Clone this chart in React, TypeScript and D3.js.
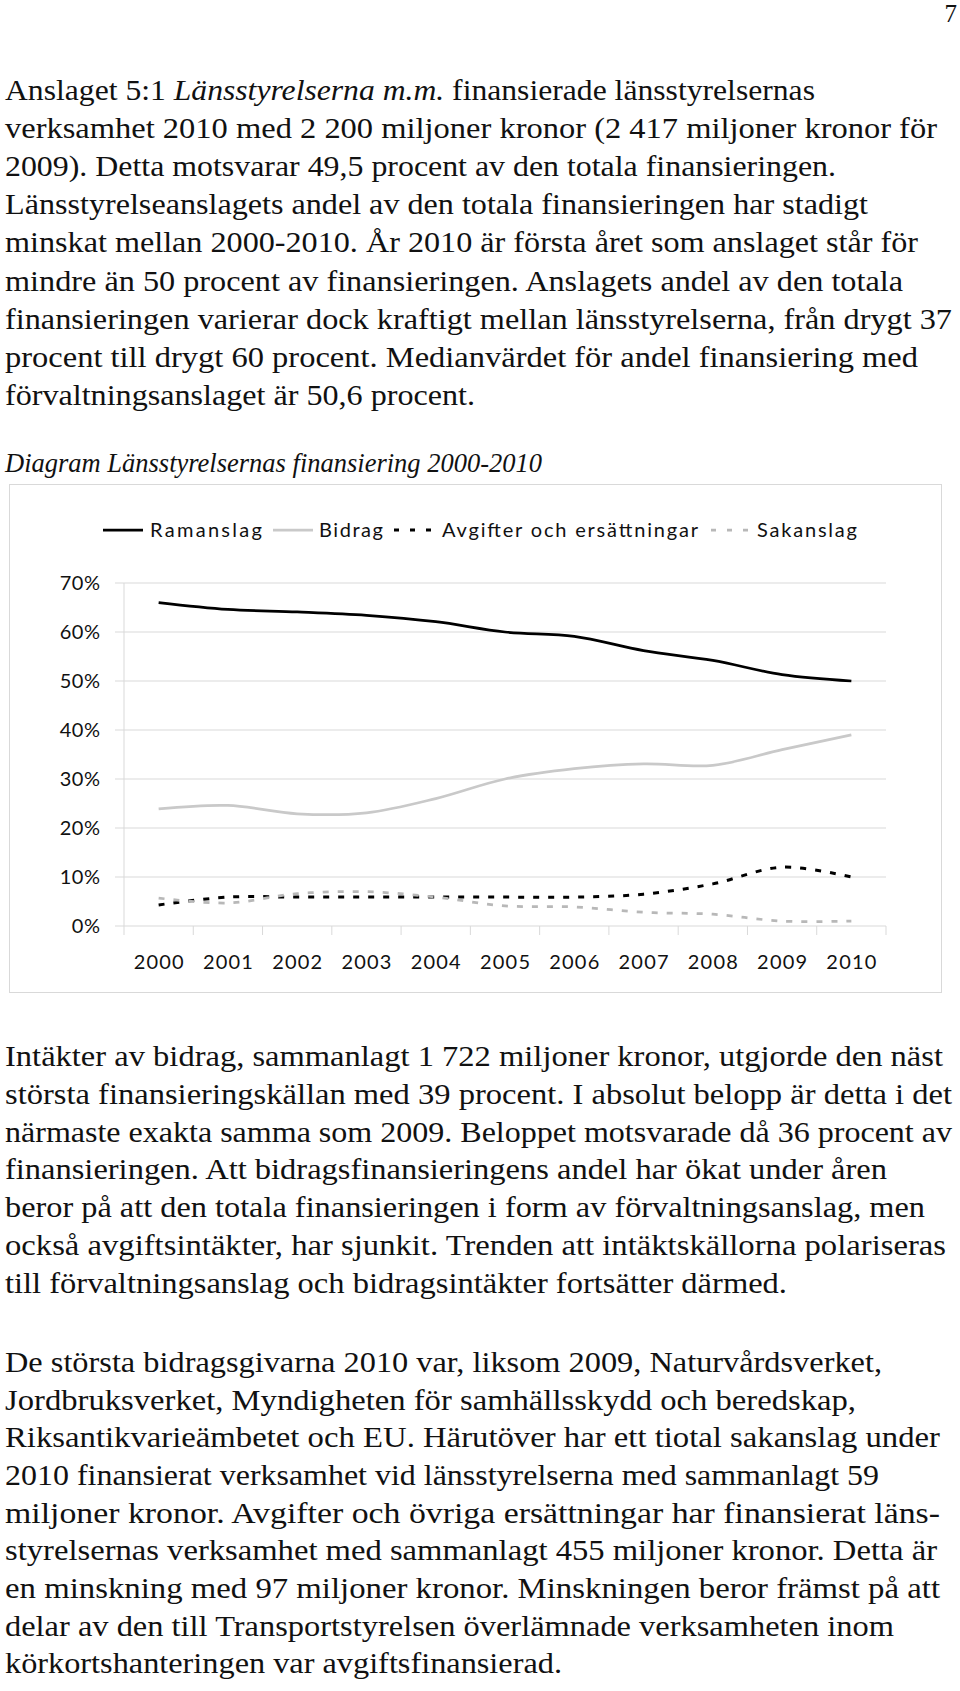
import React, { useEffect } from 'react';
import * as d3 from 'd3';

const years = ['2000', '2001', '2002', '2003', '2004', '2005', '2006', '2007', '2008', '2009', '2010'];
const ramanslag = [66.0, 64.6, 64.1, 63.4, 62.1, 60.0, 59.1, 56.2, 54.2, 51.3, 50.0];
const bidrag = [23.9, 24.6, 22.9, 23.1, 26.0, 30.0, 32.1, 33.1, 32.8, 36.0, 39.0];
const avgifter = [4.3, 5.9, 5.9, 5.9, 5.9, 5.9, 5.9, 6.5, 8.6, 12.0, 10.0];
const sakanslag = [5.7, 4.7, 6.6, 7.0, 5.9, 4.1, 3.9, 2.8, 2.4, 1.0, 1.0];
const yTicks = [0, 10, 20, 30, 40, 50, 60, 70];
const seriesNames = ['Ramanslag', 'Bidrag', 'Avgifter och ersättningar', 'Sakanslag'];

const chartTitle = 'Diagram Länsstyrelsernas finansiering 2000-2010';
const pageNumber = '7';

const para1: [string, boolean][][] = [
  [['Anslaget 5:1 ', false], ['Länsstyrelserna m.m.', true], [' finansierade länsstyrelsernas', false]],
  [['verksamhet 2010 med 2 200 miljoner kronor (2 417 miljoner kronor för', false]],
  [['2009). Detta motsvarar 49,5 procent av den totala finansieringen.', false]],
  [['Länsstyrelseanslagets andel av den totala finansieringen har stadigt', false]],
  [['minskat mellan 2000-2010. År 2010 är första året som anslaget står för', false]],
  [['mindre än 50 procent av finansieringen. Anslagets andel av den totala', false]],
  [['finansieringen varierar dock kraftigt mellan länsstyrelserna, från drygt 37', false]],
  [['procent till drygt 60 procent. Medianvärdet för andel finansiering med', false]],
  [['förvaltningsanslaget är 50,6 procent.', false]],
];
const para2: [string, boolean][][] = [
  [['Intäkter av bidrag, sammanlagt 1 722 miljoner kronor, utgjorde den näst', false]],
  [['största finansieringskällan med 39 procent. I absolut belopp är detta i det', false]],
  [['närmaste exakta samma som 2009. Beloppet motsvarade då 36 procent av', false]],
  [['finansieringen. Att bidragsfinansieringens andel har ökat under åren', false]],
  [['beror på att den totala finansieringen i form av förvaltningsanslag, men', false]],
  [['också avgiftsintäkter, har sjunkit. Trenden att intäktskällorna polariseras', false]],
  [['till förvaltningsanslag och bidragsintäkter fortsätter därmed.', false]],
];
const para3: [string, boolean][][] = [
  [['De största bidragsgivarna 2010 var, liksom 2009, Naturvårdsverket,', false]],
  [['Jordbruksverket, Myndigheten för samhällsskydd och beredskap,', false]],
  [['Riksantikvarieämbetet och EU. Härutöver har ett tiotal sakanslag under', false]],
  [['2010 finansierat verksamhet vid länsstyrelserna med sammanlagt 59', false]],
  [['miljoner kronor. Avgifter och övriga ersättningar har finansierat läns-', false]],
  [['styrelsernas verksamhet med sammanlagt 455 miljoner kronor. Detta är', false]],
  [['en minskning med 97 miljoner kronor. Minskningen beror främst på att', false]],
  [['delar av den till Transportstyrelsen överlämnade verksamheten inom', false]],
  [['körkortshanteringen var avgiftsfinansierad.', false]],
];

const p1Ends = [815, 937, 836, 868, 918, 903, 952, 918, 475];
const p2Ends = [943, 952, 952, 887, 925, 946, 787];
const p3Ends = [882, 856, 940, 879, 940, 937, 940, 894, 562];

const SERIF = '"Liberation Serif", "DejaVu Serif", serif';
const SANS = 'Lato, "Open Sans", sans-serif';

function Paragraph({ lines, ends, y0, step }: { lines: [string, boolean][][]; ends: number[]; y0: number; step: number }) {
  const x0 = 5;
  return (
    <g>
      {lines.map((segs, i) => (
        <text
          key={i}
          x={x0}
          y={y0 + i * step}
          fontFamily={SERIF}
          fontSize={29}
          fill="#111"
          textLength={ends[i] - x0}
          lengthAdjust="spacingAndGlyphs"
        >
          {segs.map(([t, it], j) => (
            <tspan key={j} fontStyle={it ? 'italic' : 'normal'}>{t}</tspan>
          ))}
        </text>
      ))}
    </g>
  );
}

export default function App() {
  useEffect(() => {
    document.body.style.margin = '0';
  }, []);

  const plotLeft = 124;
  const plotRight = 886;
  const y0 = 926;
  const y70 = 583;

  const x = d3.scaleBand<string>().domain(years).range([plotLeft, plotRight]);
  const y = d3.scaleLinear().domain([0, 70]).range([y0, y70]);
  const cx = (i: number) => (x(years[i]) as number) + x.bandwidth() / 2;

  const line = d3
    .line<number>()
    .x((_, i) => cx(i))
    .y((v) => y(v))
    .curve(d3.curveCatmullRom.alpha(0.5));

  const series = [
    { name: seriesNames[0], data: ramanslag, color: '#000', width: 2.75, dash: undefined as string | undefined },
    { name: seriesNames[1], data: bidrag, color: '#c9c9c9', width: 2.75, dash: undefined },
    { name: seriesNames[2], data: avgifter, color: '#000', width: 3, dash: '6,9' },
    { name: seriesNames[3], data: sakanslag, color: '#b8b8b8', width: 2.75, dash: '6,9' },
  ];

  const legend = [
    { sx: 103, ex: 143, tx: 150, tw: 112 },
    { sx: 273, ex: 313, tx: 319, tw: 64 },
    { sx: 394, ex: 434, tx: 442, tw: 256 },
    { sx: 711, ex: 751, tx: 757, tw: 100 },
  ];
  const legendY = 530;
  const FS = 20;

  return (
    <svg width={960} height={1691} style={{ position: 'absolute', left: 0, top: 0, background: '#fff' }}>
      <rect x={0} y={0} width={960} height={1691} fill="#fff" />
      <text x={957} y={22} textAnchor="end" fontFamily={SERIF} fontSize={25} fill="#111">{pageNumber}</text>

      <Paragraph lines={para1} ends={p1Ends} y0={100} step={38.1} />

      <text x={5} y={472} fontFamily={SERIF} fontStyle="italic" fontSize={28} fill="#111" textLength={537} lengthAdjust="spacingAndGlyphs">
        {chartTitle}
      </text>

      <rect x={9.5} y={484.5} width={932} height={508} fill="none" stroke="#d9d9d9" strokeWidth={1} />

      {yTicks.map((t) => (
        <g key={t}>
          <line x1={115} x2={plotRight} y1={y(t)} y2={y(t)} stroke="#d9d9d9" strokeWidth={1} />
          <text
            x={100.5}
            y={y(t) + 7}
            textAnchor="end"
            fontFamily={SANS}
            fontSize={FS}
            fill="#111"
            letterSpacing={0.5}
          >
            {t}%
          </text>
        </g>
      ))}
      <line x1={plotLeft} x2={plotLeft} y1={y70} y2={y0 + 9} stroke="#d9d9d9" strokeWidth={1} />
      {years.map((yr) => (
        <line key={yr} x1={(x(yr) as number) + x.bandwidth()} x2={(x(yr) as number) + x.bandwidth()} y1={y0} y2={y0 + 9} stroke="#d9d9d9" strokeWidth={1} />
      ))}
      {years.map((yr, i) => (
        <text
          key={yr}
          x={cx(i) - 25}
          y={969}
          fontFamily={SANS}
          fontSize={FS}
          fill="#111"
          textLength={50}
          lengthAdjust="spacing"
        >
          {yr}
        </text>
      ))}

      {series.map((s) => (
        <path
          key={s.name}
          d={line(s.data) || ''}
          fill="none"
          stroke={s.color}
          strokeWidth={s.width}
          strokeDasharray={s.dash}
          strokeLinejoin="round"
        />
      ))}

      {series.map((s, i) => (
        <g key={s.name}>
          <line
            x1={legend[i].sx}
            x2={legend[i].ex}
            y1={legendY}
            y2={legendY}
            stroke={s.color}
            strokeWidth={s.width}
            strokeDasharray={s.dash ? '5,11' : undefined}
          />
          <text
            x={legend[i].tx}
            y={legendY + 7}
            fontFamily={SANS}
            fontSize={FS}
            fill="#111"
            textLength={legend[i].tw}
            lengthAdjust="spacing"
          >
            {s.name}
          </text>
        </g>
      ))}

      <Paragraph lines={para2} ends={p2Ends} y0={1066} step={37.8} />
      <Paragraph lines={para3} ends={p3Ends} y0={1372} step={37.65} />
    </svg>
  );
}
